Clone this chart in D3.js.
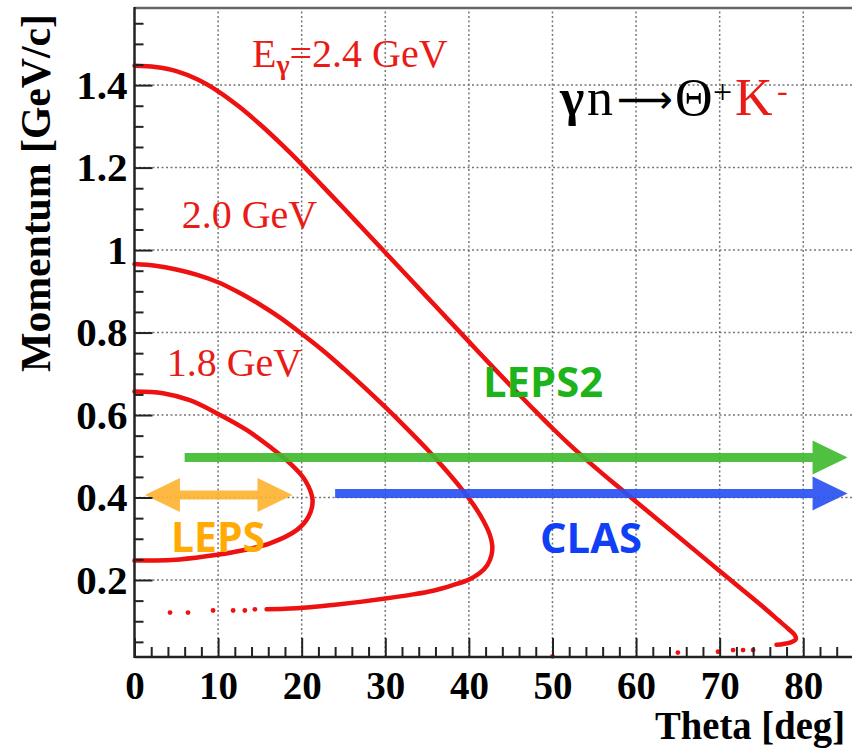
<!DOCTYPE html>
<html>
<head>
<meta charset="utf-8">
<script src="https://cdn.jsdelivr.net/npm/d3@7"></script>
<style>
body { margin: 0; background: #fff; }
</style>
</head>
<body>
<svg id="canvas" width="852" height="752"></svg>
<script>
// kinematic curves, [theta (deg), momentum (GeV/c)]
var curve24 = [[0,1.447],[2.5,1.444],[5,1.434],[7.5,1.414],[10,1.385],[12.5,1.348],[15,1.305],[17.5,1.258],
	[20,1.208],[22.5,1.155],[25,1.102],[27.5,1.048],[30,0.994],[32.5,0.94],[35,0.886],[37.5,0.832],[40,0.778],
	[42.5,0.724],[45,0.671],[47.5,0.619],[50,0.568],[52.5,0.52],[55,0.475],[57.5,0.432],[60,0.39],[62.5,0.348],
	[65,0.306],[67.5,0.264],[70,0.222],[72.5,0.18],[75,0.138],[77,0.103],[78.3,0.08],[79,0.066],[79.1,0.056],
	[78.5,0.049],[77.6,0.045],[76.8,0.043]];
var tail24 = [[74,0.03],[72.8,0.03],[71.6,0.03],[69.8,0.026],[65,0.024],[50,0.015]];

var curve20 = [[0,0.966],[2.5,0.962],[5,0.953],[7.5,0.94],[10,0.922],[12.5,0.897],[15,0.868],[17.5,0.835],
	[20,0.797],[22.5,0.757],[25,0.713],[27.5,0.667],[30,0.619],[32.5,0.569],[35,0.517],[37,0.472],[39,0.424],
	[40.5,0.384],[41.7,0.345],[42.5,0.31],[42.8,0.283],[42.7,0.26],[42.2,0.236],[41.3,0.217],[40,0.201],
	[38,0.187],[35.7,0.174],[33,0.164],[30,0.155],[27,0.147],[24,0.14],[21,0.134],[18,0.13],[15.8,0.129]];
var tail20 = [[14.4,0.129],[13.2,0.126],[11.8,0.126],[9.4,0.126],[6.4,0.121],[4.25,0.121]];

var curve18 = [[0,0.657],[3.4,0.653],[6.6,0.636],[9.9,0.604],[13.4,0.564],[16.2,0.523],[18.6,0.483],
	[20.4,0.442],[21.3,0.394],[20.8,0.353],[19.4,0.321],[16.2,0.289],[13,0.272],[9.9,0.261],[5.4,0.25],[0,0.247]];

// acceptance arrows: [theta from, theta to, momentum]
var leps2 = [6, 85.3, 0.497];
var clas = [24, 85.3, 0.41];
var leps = [1.25, 18.9, 0.406];

var xMajor = [0,10,20,30,40,50,60,70,80];
var xMinor = d3.range(2, 86, 2).filter(function(d) { return d % 10 != 0; });
var yMajor = [0.2,0.4,0.6,0.8,1,1.2,1.4];
var yMinor = d3.range(1, 32).map(function(i) { return i * 0.05; }).filter(function(d) { return Math.abs(d * 5 - Math.round(d * 5)) > 1e-6; });

var serif = "'Liberation Serif', 'Times New Roman', serif";
var sans = "'Open Sans', 'Noto Sans', sans-serif";
var red = "#ee1111";

var svg = d3.select("#canvas");
var x = d3.scaleLinear().domain([0, 85.83]).range([134.5, 852]);
var y = d3.scaleLinear().domain([0.0133, 1.587]).range([657, 8]);

// grid
var grid = svg.append("g");
grid.selectAll("line.gx").data(xMajor.filter(function(d) { return d > 0; }))
	.enter().append("line")
	.attr("class", "gx")
	.attr("x1", function(d) { return x(d); })
	.attr("x2", function(d) { return x(d); })
	.attr("y1", 657)
	.attr("y2", 8)
	.attr("stroke", "#777")
	.attr("stroke-width", 1.5)
	.attr("stroke-dasharray", "2,2.5");
grid.selectAll("line.gy").data(yMajor)
	.enter().append("line")
	.attr("class", "gy")
	.attr("y1", function(d) { return y(d); })
	.attr("y2", function(d) { return y(d); })
	.attr("x1", 134.5)
	.attr("x2", 852)
	.attr("stroke", "#777")
	.attr("stroke-width", 1.5)
	.attr("stroke-dasharray", "2,2.5");

// curves
var line = d3.line()
	.x(function(d) { return x(d[0]); })
	.y(function(d) { return y(d[1]); })
	.curve(d3.curveCatmullRom.alpha(0.5));

[curve24, curve20, curve18].forEach(function(c) {
	svg.append("path")
		.attr("d", line(c))
		.attr("fill", "none")
		.attr("stroke", red)
		.attr("stroke-width", 4.5)
		.attr("stroke-linecap", "round")
		.attr("stroke-linejoin", "round");
});

svg.append("g").selectAll("circle")
	.data(tail24.concat(tail20))
	.enter().append("circle")
	.attr("cx", function(d) { return x(d[0]); })
	.attr("cy", function(d) { return y(d[1]); })
	.attr("r", 2.4)
	.attr("fill", red);

// arrows
var headLen = 35, headHalf = 17, shaft = 9;
function arrow(a, color, both) {
	var g = svg.append("g").attr("opacity", 0.92);
	var x0 = x(a[0]), x1 = x(a[1]), yy = y(a[2]);
	g.append("line")
		.attr("x1", both ? x0 + headLen - 1 : x0)
		.attr("x2", x1 - headLen + 1)
		.attr("y1", yy).attr("y2", yy)
		.attr("stroke", color)
		.attr("stroke-width", shaft);
	g.append("path")
		.attr("d", "M" + x1 + "," + yy + "L" + (x1 - headLen) + "," + (yy - headHalf) + "L" + (x1 - headLen) + "," + (yy + headHalf) + "Z")
		.attr("fill", color);
	if (both) {
		g.append("path")
			.attr("d", "M" + x0 + "," + yy + "L" + (x0 + headLen) + "," + (yy - headHalf) + "L" + (x0 + headLen) + "," + (yy + headHalf) + "Z")
			.attr("fill", color);
	}
}
arrow(leps2, "#42bb30", false);
arrow(clas, "#2b52f2", false);
arrow(leps, "#fdb431", true);

// frame
svg.append("line").attr("x1", 134.5).attr("x2", 852).attr("y1", 8).attr("y2", 8)
	.attr("stroke", "#666").attr("stroke-width", 2.5);
svg.append("line").attr("x1", 134.5).attr("x2", 134.5).attr("y1", 7).attr("y2", 658)
	.attr("stroke", "#222").attr("stroke-width", 2.5);
svg.append("line").attr("x1", 134.5).attr("x2", 852).attr("y1", 657).attr("y2", 657)
	.attr("stroke", "#222").attr("stroke-width", 2.5);

// axes
function styleAxis(g, size) {
	g.select(".domain").remove();
	g.selectAll("line").attr("stroke", "#222").attr("stroke-width", 2);
	g.selectAll("text")
		.attr("font-family", serif)
		.attr("font-size", size)
		.attr("font-weight", "bold")
		.attr("fill", "#000");
}

svg.append("g")
	.attr("transform", "translate(0,657)")
	.call(d3.axisBottom(x).tickValues(xMajor).tickSizeInner(-19).tickSizeOuter(0).tickPadding(14).tickFormat(d3.format("d")))
	.call(styleAxis, 39);
svg.append("g")
	.attr("transform", "translate(0,657)")
	.call(d3.axisBottom(x).tickValues(xMinor).tickSizeInner(-10).tickSizeOuter(0).tickFormat(""))
	.call(styleAxis, 39);

svg.append("g")
	.attr("transform", "translate(134.5,0)")
	.call(d3.axisLeft(y).tickValues(yMajor).tickSizeInner(-18).tickSizeOuter(0).tickPadding(7).tickFormat(d3.format("~g")))
	.call(styleAxis, 41);
svg.append("g")
	.attr("transform", "translate(134.5,0)")
	.call(d3.axisLeft(y).tickValues(yMinor).tickSizeInner(-9).tickSizeOuter(0).tickFormat(""))
	.call(styleAxis, 41);

// axis titles
svg.append("text")
	.attr("x", 655).attr("y", 739)
	.attr("font-family", serif).attr("font-size", 40).attr("font-weight", "bold")
	.attr("textLength", 190).attr("lengthAdjust", "spacingAndGlyphs")
	.text("Theta [deg]");

svg.append("text")
	.attr("transform", "translate(50,372) rotate(-90)")
	.attr("font-family", serif).attr("font-size", 43).attr("font-weight", "bold")
	.attr("textLength", 358).attr("lengthAdjust", "spacingAndGlyphs")
	.text("Momentum [GeV/c]");

// curve labels
var t24 = svg.append("text")
	.attr("x", x(14.05)).attr("y", y(1.444))
	.attr("font-family", serif).attr("font-size", 40).attr("fill", "#e91b17");
t24.append("tspan").text("E");
t24.append("tspan").attr("font-size", 28).attr("font-weight", "bold").attr("dy", 7).text("γ");
t24.append("tspan").attr("dy", -7).text("=2.4 GeV");

svg.append("text")
	.attr("x", x(5.65)).attr("y", y(1.053))
	.attr("font-family", serif).attr("font-size", 40).attr("fill", "#e91b17")
	.text("2.0 GeV");
svg.append("text")
	.attr("x", x(3.85)).attr("y", y(0.695))
	.attr("font-family", serif).attr("font-size", 40).attr("fill", "#e91b17")
	.text("1.8 GeV");

// reaction
var rx = svg.append("g").attr("font-family", serif).attr("font-size", 52);
rx.append("text").attr("x", 560).attr("y", 115).attr("font-weight", "bold").text("γ");
rx.append("text").attr("x", 587).attr("y", 115).text("n");
rx.append("text").attr("x", 617).attr("y", 113)
	.attr("font-family", "'DejaVu Sans', sans-serif").attr("font-size", 40)
	.attr("textLength", 56).attr("lengthAdjust", "spacingAndGlyphs").text("⟶");
rx.append("text").attr("x", 675).attr("y", 115).text("Θ");
rx.append("text").attr("x", 713).attr("y", 103).attr("font-size", 34).text("+");
rx.append("text").attr("x", 735).attr("y", 115).attr("fill", "#e91b17").text("K");
rx.append("text").attr("x", 777).attr("y", 101).attr("font-size", 32).attr("fill", "#e91b17").text("-");

// detector labels
svg.append("text")
	.attr("x", 483).attr("y", 397)
	.attr("font-family", sans).attr("font-size", 42).attr("font-weight", "bold").attr("fill", "#1db31b")
	.attr("textLength", 120).attr("lengthAdjust", "spacingAndGlyphs")
	.text("LEPS2");
svg.append("text")
	.attr("x", 171).attr("y", 552)
	.attr("font-family", sans).attr("font-size", 42).attr("font-weight", "bold").attr("fill", "#ffaa05")
	.attr("textLength", 94).attr("lengthAdjust", "spacingAndGlyphs")
	.text("LEPS");
svg.append("text")
	.attr("x", 540).attr("y", 553)
	.attr("font-family", sans).attr("font-size", 42).attr("font-weight", "bold").attr("fill", "#0f40f5")
	.attr("textLength", 102).attr("lengthAdjust", "spacingAndGlyphs")
	.text("CLAS");
</script>
</body>
</html>
